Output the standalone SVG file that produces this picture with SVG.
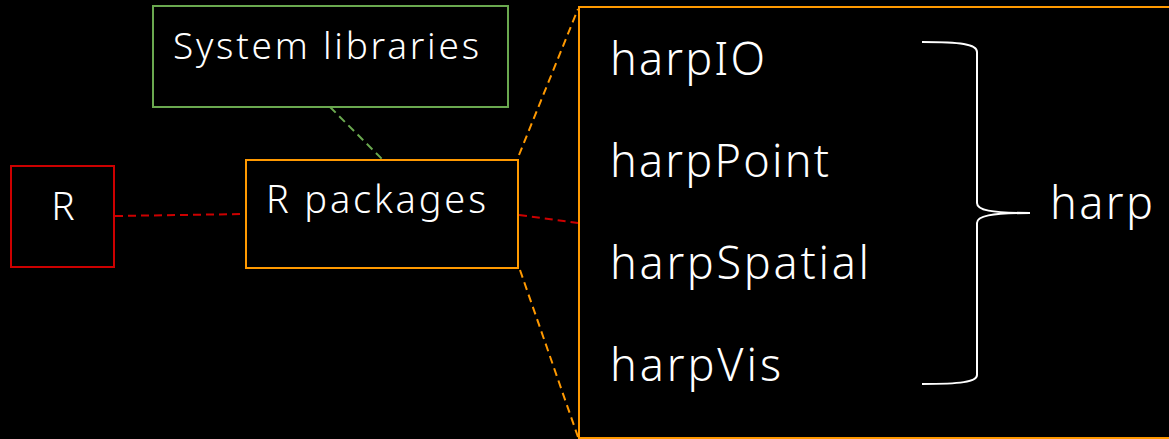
<svg xmlns="http://www.w3.org/2000/svg" width="1169" height="439" viewBox="0 0 1169 439">
<style>
  text { fill: #ffffff; font-family: "Noto Sans", "Liberation Sans", sans-serif; font-weight: 300; }
  .box { fill: #000000; stroke-width: 2; }
  .red { stroke: #cc0000; }
  .orange { stroke: #ff9900; }
  .green { stroke: #6aa84f; }
  .conn { fill: none; stroke-width: 2; stroke-dasharray: 8 5; }
  .pkg { font-size: 45px; }
</style>
<rect x="0" y="0" width="1169" height="439" fill="#000000"/>
<g id="connectors">
  <line class="conn red" x1="115" y1="216" x2="246" y2="214"/>
  <line class="conn green" x1="330" y1="107" x2="383" y2="160"/>
  <line class="conn orange" x1="519" y1="155" x2="578" y2="9"/>
  <line class="conn red" x1="519" y1="215" x2="578" y2="223"/>
  <line class="conn orange" x1="520" y1="270" x2="578" y2="437"/>
</g>
<g id="node-r">
  <rect class="box red" x="11" y="166" width="103" height="101"/>
  <text x="63" y="220" font-size="39" text-anchor="middle">R</text>
</g>
<g id="node-syslibs">
  <rect class="box green" x="153" y="6" width="355" height="101"/>
  <text x="173" y="59" font-size="37" textLength="306" lengthAdjust="spacing">System libraries</text>
</g>
<g id="node-rpackages">
  <rect class="box orange" x="246" y="160" width="272" height="108"/>
  <text x="266" y="213" font-size="38" textLength="220" lengthAdjust="spacing">R packages</text>
</g>
<g id="node-harp-group">
  <rect class="box orange" x="579" y="7" width="600" height="431"/>
  <text class="pkg" x="610" y="75" textLength="155" lengthAdjust="spacing">harpIO</text>
  <text class="pkg" x="610" y="177" textLength="219" lengthAdjust="spacing">harpPoint</text>
  <text class="pkg" x="610" y="279" textLength="259" lengthAdjust="spacing">harpSpatial</text>
  <text class="pkg" x="610" y="381" textLength="171" lengthAdjust="spacing">harpVis</text>
</g>
<g id="brace">
  <path d="M922,42 C960,42 977,44 977,52 L977,203 C977,210 990,213 1030,213 C990,213 977,216 977,223 L977,375 C977,382 960,384 922,384" fill="none" stroke="#ffffff" stroke-width="2"/>
</g>
<g id="node-harp">
  <text class="pkg" x="1050" y="219" textLength="103" lengthAdjust="spacing">harp</text>
</g>
</svg>
